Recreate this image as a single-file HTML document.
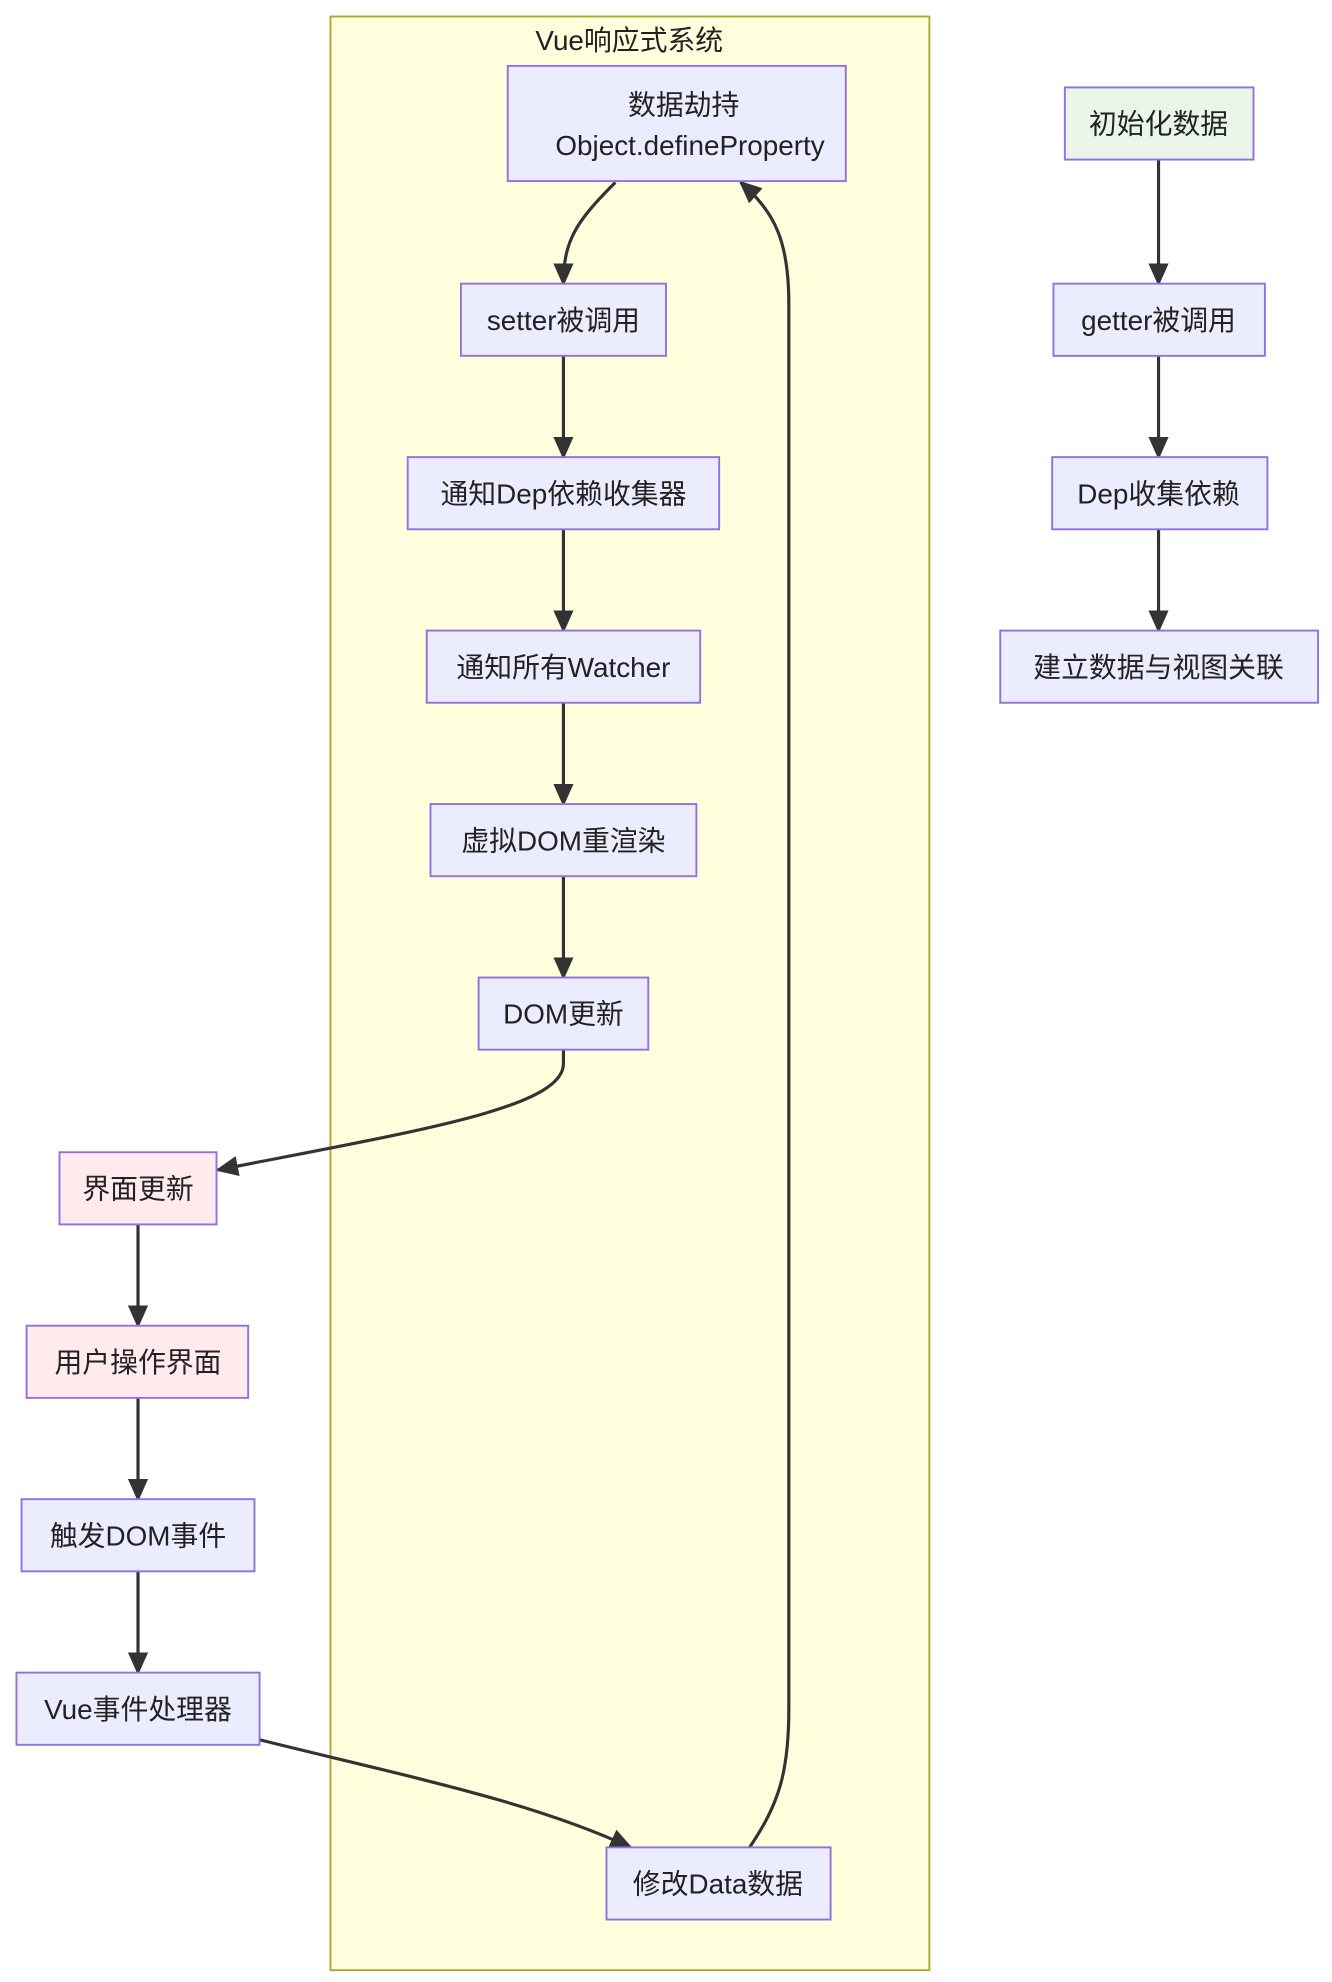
<!DOCTYPE html>
<html><head><meta charset="utf-8"><style>
html,body{margin:0;padding:0;background:#fff;}
svg{display:block;}
text{font-family:"Liberation Sans","Noto Sans CJK SC",sans-serif;font-size:22px;fill:#222;text-anchor:middle;dominant-baseline:central;}
.n{fill:#ECECFF;stroke:#9370DB;stroke-width:1.5;}
.g{fill:#E8F5E8;stroke:#9370DB;stroke-width:1.5;}
.p{fill:#FFEBEE;stroke:#9370DB;stroke-width:1.5;}
.e{fill:none;stroke:#333;stroke-width:2.5;}
</style></head><body>
<svg width="1332" height="1982" viewBox="0 0 1052 1565.3" xmlns="http://www.w3.org/2000/svg">
<defs><marker id="a" markerUnits="userSpaceOnUse" markerWidth="20" markerHeight="20" refX="16" refY="8" orient="auto"><path d="M0,0 L18,8 L0,16 z" fill="#333"/></marker></defs>
<rect x="261" y="13" width="473" height="1543" fill="#ffffde" stroke="#aaaa33" stroke-width="1.5"/>
<text x="497" y="32">Vue响应式系统</text>

<path class="e" marker-end="url(#a)" d="M486,144 C455,175 445,190 445,224"/>
<path class="e" marker-end="url(#a)" d="M445,281 L445,361"/>
<path class="e" marker-end="url(#a)" d="M445,418 L445,498"/>
<path class="e" marker-end="url(#a)" d="M445,555 L445,635"/>
<path class="e" marker-end="url(#a)" d="M445,692 L445,772"/>
<path class="e" marker-end="url(#a)" d="M445,829 L445,840 C445,875 330,893 172,924"/>
<path class="e" marker-end="url(#a)" d="M109,967 L109,1047"/>
<path class="e" marker-end="url(#a)" d="M109,1104 L109,1184"/>
<path class="e" marker-end="url(#a)" d="M109,1241 L109,1321"/>
<path class="e" marker-end="url(#a)" d="M205,1374 C330,1405 420,1423 498,1459"/>
<path class="e" marker-end="url(#a)" d="M592,1459 C615,1425 623,1400 623,1350 L623,240 C623,190 612,168 585,144"/>
<path class="e" marker-end="url(#a)" d="M915,126 L915,224"/>
<path class="e" marker-end="url(#a)" d="M915,281 L915,361"/>
<path class="e" marker-end="url(#a)" d="M915,418 L915,498"/>

<rect class="n" x="401" y="52" width="267" height="91"/>
<text x="540" y="83">数据劫持</text>
<svg x="401" y="52" width="266" height="91" overflow="hidden"><text x="144" y="63">Object.defineProperty</text></svg>
<rect class="n" x="364" y="224" width="162" height="57"/><text x="445" y="253">setter被调用</text>
<rect class="n" x="322" y="361" width="246" height="57"/><text x="445" y="390">通知Dep依赖收集器</text>
<rect class="n" x="337" y="498" width="216" height="57"/><text x="445" y="527">通知所有Watcher</text>
<rect class="n" x="340" y="635" width="210" height="57"/><text x="445" y="664">虚拟DOM重渲染</text>
<rect class="n" x="378" y="772" width="134" height="57"/><text x="445" y="801">DOM更新</text>
<rect class="n" x="479" y="1459" width="177" height="57"/><text x="567" y="1488">修改Data数据</text>

<rect class="g" x="841" y="69" width="149" height="57"/><text x="915" y="98">初始化数据</text>
<rect class="n" x="832" y="224" width="167" height="57"/><text x="915" y="253">getter被调用</text>
<rect class="n" x="831" y="361" width="170" height="57"/><text x="915" y="390">Dep收集依赖</text>
<rect class="n" x="790" y="498" width="251" height="57"/><text x="915" y="527">建立数据与视图关联</text>

<rect class="p" x="47" y="910" width="124" height="57"/><text x="109" y="939">界面更新</text>
<rect class="p" x="21" y="1047" width="175" height="57"/><text x="109" y="1076">用户操作界面</text>
<rect class="n" x="17" y="1184" width="184" height="57"/><text x="109" y="1213">触发DOM事件</text>
<rect class="n" x="13" y="1321" width="192" height="57"/><text x="109" y="1350">Vue事件处理器</text>
</svg>
</body></html>
